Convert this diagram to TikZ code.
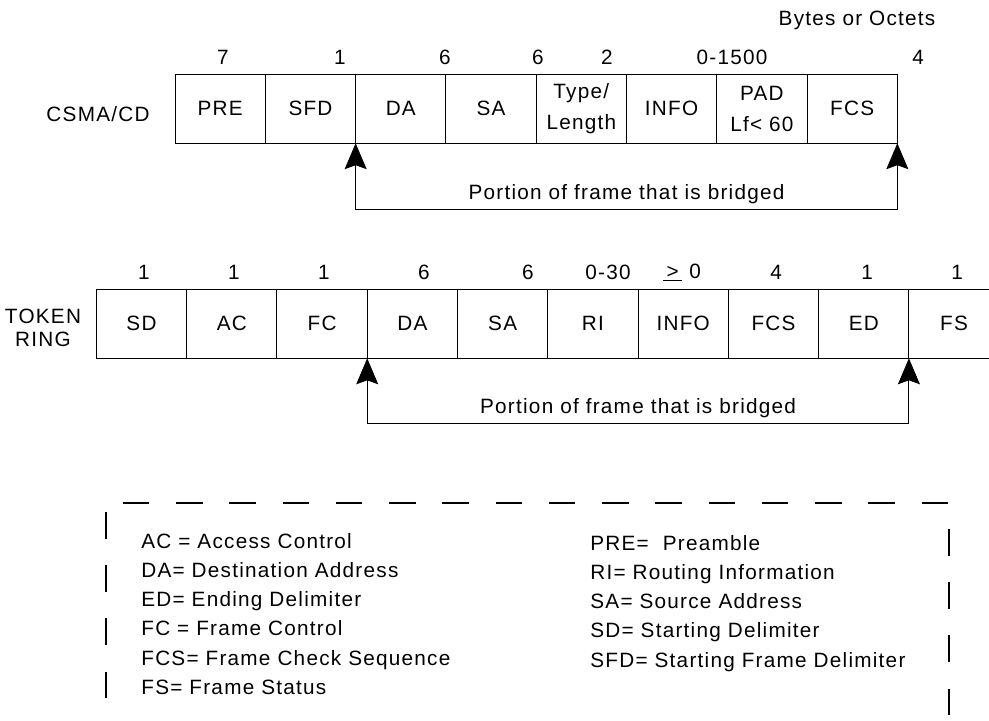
\documentclass[tikz,border=0pt]{standalone}
\usepackage{fontspec}
\setmainfont{Liberation Sans}[LetterSpace=6]
\usetikzlibrary{arrows.meta, positioning}

\newcommand{\framefont}{\fontsize{11.8}{17.5}\selectfont}
\tikzset{
  field/.style={draw, line width=0.6pt, minimum width=1.806cm, minimum height=1.38cm, inner sep=0pt, outer sep=0pt, align=center, font=\framefont},
  bytes/.style={font=\framefont, inner sep=0pt},
  bridge/.style={line width=0.6pt, {Stealth[length=5.2mm, width=4.4mm, inset=0.8mm]}-{Stealth[length=5.2mm, width=4.4mm, inset=0.8mm]}},
  legendline/.style={line width=0.04cm, dash pattern=on 0.53cm off 0.535cm},
  legend/.style={font=\fontsize{11.8}{16.6}\selectfont, align=left, inner sep=0pt, anchor=north west}
}

\begin{document}
\begin{tikzpicture}[x=0.02cm, y=-0.02cm]
  \useasboundingbox (0,0) rectangle (989,720);
  \clip (0,0) rectangle (989,720);

  % CSMA/CD frame
  \node[bytes] (octets) at (857,20) {Bytes or Octets};
  \node[bytes] (csma) at (98,114) {CSMA/CD};
  \node[field] (pre) at (220.2,108.7) {PRE};
  \node[field, right=0pt of pre] (sfd) {SFD};
  \node[field, right=0pt of sfd] (da) {DA};
  \node[field, right=0pt of da] (sa) {SA};
  \node[field, right=0pt of sa] (type) {Type/\\Length};
  \node[field, right=0pt of type] (info) {INFO};
  \node[field, right=0pt of info] (pad) {PAD\\Lf< 60};
  \node[field, right=0pt of pad] (fcs) {FCS};

  \node[bytes] (npre) at (223,57) {7};
  \node[bytes] (nsfd) at (340,57) {1};
  \node[bytes] (nda) at (445,57) {6};
  \node[bytes] (nsa) at (538,57) {6};
  \node[bytes] (ntype) at (607,57) {2};
  \node[bytes] (ninfo) at (732,57) {0-1500};
  \node[bytes] (nfcs) at (918,57) {4};

  \draw[bridge] (sfd.south east) -- ++(0,66) -| node[pos=0.25, above, inner sep=3pt, font=\framefont] (cbridged) {Portion of frame that is bridged} (fcs.south east);

  % Token ring frame
  \node[bytes, align=center, font=\fontsize{11.8}{13.2}\selectfont] (token) at (43,328) {TOKEN\\RING};
  \node[field] (sd) at (141.5,323.8) {SD};
  \node[field, right=0pt of sd] (ac) {AC};
  \node[field, right=0pt of ac] (fc) {FC};
  \node[field, right=0pt of fc] (tda) {DA};
  \node[field, right=0pt of tda] (tsa) {SA};
  \node[field, right=0pt of tsa] (ri) {RI};
  \node[field, right=0pt of ri] (tinfo) {INFO};
  \node[field, right=0pt of tinfo] (tfcs) {FCS};
  \node[field, right=0pt of tfcs] (ed) {ED};
  \node[field, right=0pt of ed] (fs) {FS};

  \node[bytes] (nsd) at (144,272.7) {1};
  \node[bytes] (nac) at (234,272.7) {1};
  \node[bytes] (nfc) at (324,272.7) {1};
  \node[bytes] (ntda) at (424,272.7) {6};
  \node[bytes] (ntsa) at (528,272.7) {6};
  \node[bytes] (nri) at (608,272.7) {0-30};
  \node[bytes] (ntinfo) at (682,272.7) {\underline{\,>\,}\ 0};
  \node[bytes] (ntfcs) at (776,272.7) {4};
  \node[bytes] (ned) at (867,272.7) {1};
  \node[bytes] (nfs) at (957,272.7) {1};

  \draw[bridge] (fc.south east) -- ++(0,65) -| node[pos=0.25, above, inner sep=3pt, font=\framefont] (tbridged) {Portion of frame that is bridged} (ed.south east);

  % Abbreviations
  \draw[legendline] (123,503) -- (948,503);
  \draw[legendline] (106,512) -- (106,740);
  \draw[legendline] (949,529) -- (949,740);

  \node[legend] (abbrleft) at (141,533) {AC = Access Control\\DA= Destination Address\\ED= Ending Delimiter\\FC = Frame Control\\FCS= Frame Check Sequence\\FS= Frame Status};
  \node[legend] (abbrright) at (590,535) {PRE=\ \ Preamble\\RI= Routing Information\\SA= Source Address\\SD= Starting Delimiter\\SFD= Starting Frame Delimiter};
\end{tikzpicture}
\end{document}
